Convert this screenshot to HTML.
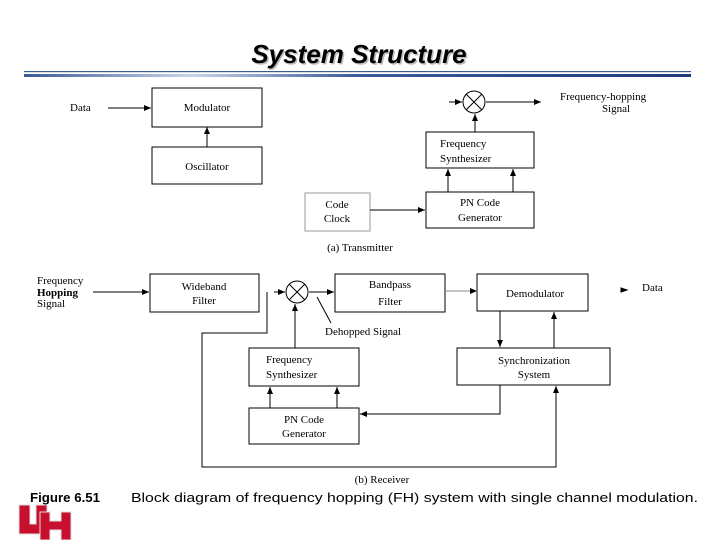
<!DOCTYPE html>
<html><head><meta charset="utf-8"><style>
html,body{margin:0;padding:0;background:#fff;}
svg{display:block;}
</style></head><body>
<svg width="720" height="540" viewBox="0 0 720 540" xmlns="http://www.w3.org/2000/svg">
<defs>
<linearGradient id="g" x1="0" x2="1" y1="0" y2="0">
<stop offset="0" stop-color="#3a5a9a"/><stop offset="0.25" stop-color="#c8d4e8"/><stop offset="0.5" stop-color="#3a5a9a"/><stop offset="1" stop-color="#1f3a7a"/>
</linearGradient>
<marker id="a" markerWidth="8" markerHeight="8" refX="7" refY="4" orient="auto" markerUnits="userSpaceOnUse"><path d="M0,1 L7,4 L0,7 z" fill="#000"/></marker>
</defs>
<text x="359" y="63" text-anchor="middle" font-family="Liberation Sans, sans-serif" font-weight="bold" font-style="italic" font-size="26" fill="#bbb" transform="translate(1.5,1.5)">System Structure</text>
<text x="359" y="63" text-anchor="middle" font-family="Liberation Sans, sans-serif" font-weight="bold" font-style="italic" font-size="26" fill="#000">System Structure</text>
<rect x="24" y="71" width="667" height="1.2" fill="#3a5a9a"/>
<rect x="24" y="74" width="667" height="3" fill="url(#g)"/>
<g font-family="Liberation Serif, serif" font-size="11" fill="#000" stroke="none">
<g fill="none" stroke="#000" stroke-width="1">
<rect x="152" y="88" width="110" height="39"/>
<rect x="152" y="147" width="110" height="37"/>
<circle cx="474" cy="102" r="11"/>
<path d="M466,94 L482,110 M482,94 L466,110"/>
<rect x="426" y="132" width="108" height="36"/>
<rect x="426" y="192" width="108" height="36"/>
<rect x="305" y="193" width="65" height="38" stroke="#999"/>
<path d="M108,108 H151" marker-end="url(#a)"/>
<path d="M207,147 V127" marker-end="url(#a)"/>
<path d="M449,102 H462" marker-end="url(#a)"/>
<path d="M486,102 H541" marker-end="url(#a)"/>
<path d="M475,132 V114" marker-end="url(#a)"/>
<path d="M448,192 V169" marker-end="url(#a)"/>
<path d="M513,192 V169" marker-end="url(#a)"/>
<path d="M370,210 H425" marker-end="url(#a)"/>
<rect x="150" y="274" width="109" height="38"/>
<circle cx="297" cy="292" r="11"/>
<path d="M289,284 L305,300 M305,284 L289,300"/>
<rect x="335" y="274" width="110" height="38"/>
<rect x="477" y="274" width="111" height="37"/>
<rect x="249" y="348" width="110" height="38"/>
<rect x="249" y="408" width="110" height="36"/>
<rect x="457" y="348" width="153" height="37"/>
<path d="M93,292 H149" marker-end="url(#a)"/>
<path d="M274,292 H285" marker-end="url(#a)"/>
<path d="M309,292 H334" marker-end="url(#a)"/>
<path d="M445,291 H477" stroke="#888" marker-end="url(#a)"/>
<path d="M621,288 L627,290 L621,292 z" fill="#000"/>
<path d="M317,297 L331,323"/>
<path d="M295,348 V304" marker-end="url(#a)"/>
<path d="M270,408 V387" marker-end="url(#a)"/>
<path d="M337,408 V387" marker-end="url(#a)"/>
<path d="M500,311 V347" marker-end="url(#a)"/>
<path d="M554,348 V312" marker-end="url(#a)"/>
<path d="M500,385 V414 H360" marker-end="url(#a)"/>
<path d="M267,292 V333 H202 V467 H556 V386" marker-end="url(#a)"/>
</g>
<text x="70" y="111">Data</text>
<text x="207" y="111" text-anchor="middle">Modulator</text>
<text x="207" y="170" text-anchor="middle">Oscillator</text>
<text x="560" y="100">Frequency-hopping</text>
<text x="616" y="112" text-anchor="middle">Signal</text>
<text x="440" y="147">Frequency</text>
<text x="440" y="162">Synthesizer</text>
<text x="480" y="206" text-anchor="middle">PN Code</text>
<text x="480" y="221" text-anchor="middle">Generator</text>
<text x="337" y="208" text-anchor="middle">Code</text>
<text x="337" y="222" text-anchor="middle">Clock</text>
<text x="360" y="251" text-anchor="middle">(a) Transmitter</text>
<text x="37" y="284">Frequency</text>
<text x="37" y="296" font-weight="bold">Hopping</text>
<text x="37" y="307">Signal</text>
<text x="204" y="290" text-anchor="middle">Wideband</text>
<text x="204" y="304" text-anchor="middle">Filter</text>
<text x="390" y="288" text-anchor="middle">Bandpass</text>
<text x="390" y="305" text-anchor="middle">Filter</text>
<text x="535" y="297" text-anchor="middle">Demodulator</text>
<text x="642" y="291">Data</text>
<text x="325" y="335">Dehopped Signal</text>
<text x="266" y="363">Frequency</text>
<text x="266" y="378">Synthesizer</text>
<text x="304" y="423" text-anchor="middle">PN Code</text>
<text x="304" y="437" text-anchor="middle">Generator</text>
<text x="534" y="364" text-anchor="middle">Synchronization</text>
<text x="534" y="378" text-anchor="middle">System</text>
<text x="382" y="483" text-anchor="middle">(b) Receiver</text>
</g>
<text x="30" y="502" font-family="Liberation Sans, sans-serif" font-weight="bold" font-size="13" textLength="70" lengthAdjust="spacingAndGlyphs">Figure 6.51</text>
<text x="131" y="502" font-family="Liberation Sans, sans-serif" font-size="13" textLength="567" lengthAdjust="spacingAndGlyphs">Block diagram of frequency hopping (FH) system with single channel modulation.</text>
<g fill="#c8102e" stroke="#ddd" stroke-width="1">
<path d="M19,505 H30 V524 H36 V505 H47 V531 H40 V534 H19 Z"/>
<path d="M40,512 H50 V521 H61 V512 H71 V540 H61 V530 H50 V540 H40 Z"/>
</g>
</svg>
</body></html>
